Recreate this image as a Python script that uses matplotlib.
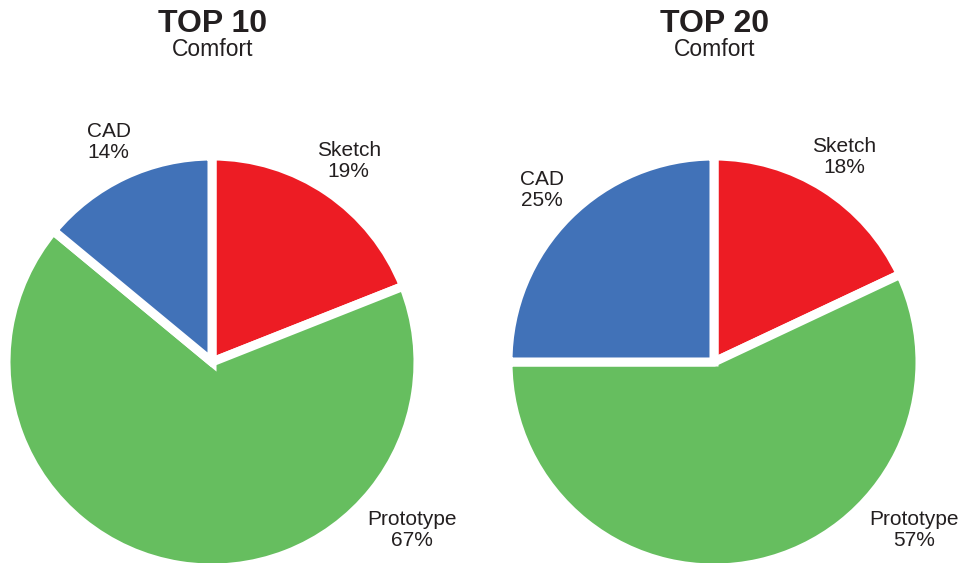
import matplotlib.pyplot as plt

plt.rcParams["font.family"] = ["Liberation Sans", "DejaVu Sans"]

labels = ["Sketch", "Prototype", "CAD"]
top10_values = [19, 67, 14]
top20_values = [18, 57, 25]
titles = ["TOP 10", "TOP 20"]
subtitle = "Comfort"
colors = ["#ED1C24", "#66BE5F", "#4172B8"]

W, H = 961, 563
centers = [(212, H - 362), (714, H - 362)]
radius = 206


def draw_pie(ax, values, center, title):
    texts = [f"{name}\n{v}%" for name, v in zip(labels, values)]
    wedges, label_texts = ax.pie(
        values,
        labels=texts,
        colors=colors,
        startangle=90,
        counterclock=False,
        center=center,
        radius=radius,
        labeldistance=1.18,
        frame=True,
        wedgeprops={"edgecolor": "white", "linewidth": 6.5},
        textprops={"fontsize": 15, "color": "#231F20", "linespacing": 1.1},
    )
    for t in label_texts:
        t.set_ha("center")
        t.set_va("center")
    # prototype label sits off to the lower right
    label_texts[1].set_position((center[0] + 200, center[1] - 168))

    ax.text(center[0] + 1, H - 24, title, ha="center", va="center",
            fontsize=23, fontweight="bold", color="#231F20")
    ax.text(center[0] + 1, H - 50, subtitle, ha="center", va="center",
            fontsize=16.5, color="#231F20")


fig = plt.figure(figsize=(W / 100, H / 100), dpi=100)
ax = fig.add_axes([0, 0, 1, 1])

draw_pie(ax, top10_values, centers[0], titles[0])
draw_pie(ax, top20_values, centers[1], titles[1])

ax.set_xlim(0, W)
ax.set_ylim(0, H)
ax.set_aspect("equal")
ax.axis("off")

fig.savefig("out.png", dpi=100, facecolor="white")
